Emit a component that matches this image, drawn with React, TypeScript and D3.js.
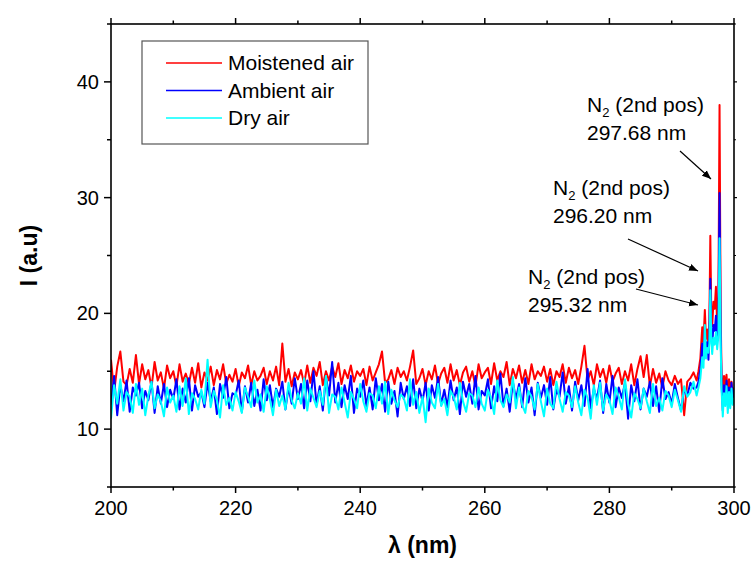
import React from "react";
import * as d3 from "d3";

// Baseline sampling grid: 200.0 .. 293.5 nm every 0.5 nm
const baseWavelengths: number[] = d3.range(200, 293.75, 0.5);

const redBase: number[] = [
  16.0,13.2,15.4,16.7,14.1,13.8,15.2,14.0,16.4,13.9,15.6,14.3,15.1,13.6,15.8,14.2,14.9,13.5,15.5,14.4,
  15.0,13.7,15.6,14.1,14.8,13.9,15.3,14.0,15.7,13.6,14.9,14.2,15.4,13.8,15.1,14.3,15.6,13.9,14.7,14.1,
  15.2,13.7,14.9,14.4,15.5,13.8,15.0,14.2,14.6,15.3,13.9,15.0,14.2,15.4,13.8,17.4,14.1,15.2,13.7,14.9,
  14.3,15.1,13.9,15.5,14.0,15.3,14.6,15.8,13.8,15.0,14.2,15.4,14.5,15.7,13.9,15.1,14.4,15.5,14.1,15.0,
  14.6,15.2,13.8,15.4,14.2,14.9,15.6,16.7,14.0,14.3,15.1,13.9,15.3,14.5,15.0,14.2,15.4,16.8,13.9,14.4,
  15.2,13.8,15.0,14.3,15.5,13.9,14.8,15.3,14.0,15.6,14.2,15.1,13.8,14.9,15.4,14.1,15.0,13.7,15.6,14.4,
  14.9,15.3,13.9,15.7,14.2,15.0,14.5,15.8,13.8,15.2,14.4,15.5,14.0,15.1,13.9,15.6,14.3,15.0,14.6,15.4,
  14.1,15.2,13.8,15.0,14.5,15.6,14.0,15.3,14.4,15.1,13.9,15.4,17.2,14.2,15.0,13.8,15.6,14.5,15.2,14.0,
  15.5,14.1,14.8,15.3,13.9,15.0,14.2,15.6,13.8,15.2,16.3,14.5,16.4,13.7,15.2,14.0,14.8,13.6,15.0,14.2,
  13.8,14.6,13.9,14.3,11.2,14.1,14.4,14.9,
];

const blueBase: number[] = [
  12.1,14.6,11.2,13.8,12.4,14.2,11.5,13.6,12.9,14.0,11.8,13.3,12.5,14.1,11.4,13.7,12.2,13.9,11.9,13.4,
  12.6,14.3,11.7,13.5,12.3,14.4,11.6,13.8,12.8,13.2,11.9,14.0,12.4,13.6,11.3,13.9,12.7,14.5,11.8,13.1,
  12.9,14.2,11.5,13.7,12.3,14.0,12.0,13.4,11.6,14.3,12.5,13.8,11.9,13.5,12.8,14.1,11.7,13.6,12.2,14.4,
  12.6,13.9,11.8,14.2,12.4,15.0,12.1,13.7,11.6,14.5,12.9,15.8,12.3,14.0,11.9,13.8,12.6,14.6,11.4,13.5,
  12.8,14.2,12.0,13.6,11.7,14.4,12.5,13.9,11.5,14.1,12.2,13.3,11.1,14.0,12.6,13.7,12.0,14.3,11.8,13.5,
  12.4,14.0,11.6,13.8,12.7,14.5,12.1,13.4,11.9,14.2,12.5,13.6,11.3,14.1,12.8,13.9,12.2,14.6,11.7,13.3,
  12.9,14.3,11.8,13.7,12.4,14.8,12.0,13.5,11.5,14.1,12.6,13.9,11.9,14.4,12.3,13.6,11.2,14.0,12.7,13.8,
  12.1,14.5,11.7,13.4,12.8,14.9,12.2,13.7,11.6,14.1,12.5,13.8,12.0,15.2,11.8,13.5,12.6,14.2,11.4,13.9,
  12.3,14.6,11.9,13.6,12.7,14.0,10.9,13.8,12.4,14.3,11.7,13.5,12.8,14.1,12.0,13.7,11.5,14.4,12.6,13.2,
  12.2,13.9,12.7,11.6,13.4,12.9,14.0,13.5,
];

const cyanBase: number[] = [
  10.9,13.8,12.2,14.3,11.6,13.2,12.8,11.4,13.9,12.1,13.5,11.2,12.9,14.1,11.8,13.0,12.4,11.1,13.6,12.3,
  12.9,11.5,13.7,12.0,14.4,11.3,13.1,12.6,11.7,13.4,12.2,16.0,11.9,13.3,12.5,11.0,13.8,12.1,12.7,11.6,
  13.2,12.4,11.4,13.6,12.8,11.9,14.2,12.3,13.0,11.5,13.7,12.6,11.2,13.4,12.0,12.9,11.7,14.0,12.5,11.8,
  13.1,12.2,14.4,11.6,13.5,12.7,11.9,13.3,12.1,14.6,11.4,13.0,12.8,11.7,13.6,12.3,11.0,13.2,12.6,11.8,
  13.9,12.4,11.5,13.1,12.9,11.8,13.7,12.2,14.1,11.3,13.4,12.5,11.9,13.0,12.7,11.6,14.3,12.1,13.2,11.4,
  12.8,10.6,13.5,12.3,11.8,13.9,12.0,12.6,11.2,13.3,12.8,11.7,14.0,12.4,11.5,13.1,12.9,11.9,13.6,12.2,
  11.6,13.4,12.7,11.3,14.2,12.5,11.9,13.0,12.3,14.5,11.8,13.6,12.1,11.4,13.3,12.8,11.7,13.9,12.4,11.1,
  13.5,12.2,11.8,14.1,12.6,11.5,13.2,12.9,11.9,13.7,12.3,11.2,13.4,12.7,10.9,13.8,12.1,14.0,11.6,13.0,
  12.5,11.3,13.6,12.8,11.7,14.3,12.2,11.0,13.1,12.6,11.8,13.5,12.4,11.4,13.9,12.0,12.7,11.6,13.3,12.9,
  11.9,13.4,12.5,11.5,13.7,12.8,13.2,14.1,
];

// N2 second positive band region
const peakWavelengths: number[] = [
  294.0,294.3,294.6,294.9,295.1,295.32,295.5,295.7,295.9,296.05,296.2,296.35,296.5,296.7,296.9,297.1,
  297.3,297.5,297.68,297.85,298.0,298.2,298.4,298.6,298.8,299.0,299.2,299.4,299.6,299.8,300.0,
];
const redPeak: number[] = [
  14.2,15.0,16.1,18.8,17.5,20.3,17.8,18.6,17.2,19.5,26.7,20.1,18.9,21.0,20.4,22.3,
  19.0,21.5,38.0,20.5,14.8,13.1,14.6,13.9,14.7,12.8,14.3,13.5,14.1,12.9,13.6,
];
const bluePeak: number[] = [
  13.6,14.1,15.2,17.4,16.0,18.7,16.3,17.5,16.0,18.2,23.0,18.4,17.2,19.0,18.5,19.8,
  17.6,19.5,30.4,18.6,13.9,11.6,13.8,12.4,14.2,12.7,13.6,12.2,14.0,12.5,13.4,
];
const cyanPeak: number[] = [
  12.9,13.6,14.4,16.2,15.3,19.0,16.1,17.0,16.6,17.4,22.0,17.8,16.5,17.9,17.3,18.4,
  16.9,18.1,26.5,17.6,13.4,11.1,13.1,12.0,13.7,11.4,13.2,11.8,13.5,12.1,12.7,
];

const seriesNames: string[] = ["Moistened air", "Ambient air", "Dry air"];
const seriesColors: string[] = ["#ff0000", "#0000ff", "#00ffff"];

const xTicks: number[] = [200, 220, 240, 260, 280, 300];
const yTicks: number[] = [10, 20, 30, 40];

const annotations = [
  { label: "297.68 nm", wl: 297.68 },
  { label: "296.20 nm", wl: 296.2 },
  { label: "295.32 nm", wl: 295.32 },
];

const W = 753;
const H = 567;
const L = 111, R = 734, T = 24, B = 487;

export default function App() {
  const x = d3.scaleLinear().domain([200, 300]).range([L, R]);
  const y = d3.scaleLinear().domain([5, 45]).range([B, T]);

  const build = (base: number[], peak: number[]) => {
    const pts: [number, number][] = baseWavelengths.map((w, i) => [w, base[i]]);
    peakWavelengths.forEach((w, i) => pts.push([w, peak[i]]));
    return pts;
  };
  const data = [build(redBase, redPeak), build(blueBase, bluePeak), build(cyanBase, cyanPeak)];
  const line = d3.line<[number, number]>().x((d) => x(d[0])).y((d) => y(d[1]));

  const xMinor = d3.range(210, 300, 20);
  const yMinor = d3.range(5, 46, 10);
  const font = "Liberation Sans, Arial, sans-serif";

  const annPos = [
    { tx: 587, ty1: 112, ty2: 140, ax1: 680, ay1: 151, ax2: 711, ay2: 179 },
    { tx: 553, ty1: 195, ty2: 223, ax1: 628, ay1: 239, ax2: 698, ay2: 271 },
    { tx: 528, ty1: 284, ty2: 312, ax1: 636, ay1: 289, ax2: 698, ay2: 305 },
  ];

  return (
    <svg width={W} height={H} style={{ position: "absolute", left: 0, top: 0 }} fontFamily={font}>
      <defs>
        <marker id="arr" viewBox="0 0 10 10" refX="10" refY="5" markerWidth="9" markerHeight="9" markerUnits="userSpaceOnUse" orient="auto">
          <path d="M0,1 L10,5 L0,9 Z" fill="#000" />
        </marker>
        <clipPath id="clip">
          <rect x={L} y={T} width={R - L} height={B - T} />
        </clipPath>
      </defs>
      <rect width={W} height={H} fill="#fff" />

      <g clipPath="url(#clip)">
        {data.map((d, i) => (
          <path key={i} d={line(d) || ""} fill="none" stroke={seriesColors[i]} strokeWidth={2} strokeLinejoin="round" />
        ))}
      </g>

      <rect x={L} y={T} width={R - L} height={B - T} fill="none" stroke="#000" strokeWidth={1.6} />

      {xTicks.map((t) => (
        <g key={"xt" + t}>
          <line x1={x(t)} x2={x(t)} y1={B} y2={B + 6} stroke="#000" strokeWidth={1.5} />
          <line x1={x(t)} x2={x(t)} y1={T} y2={T - 6} stroke="#000" strokeWidth={1.5} />
          <text x={x(t)} y={B + 28} textAnchor="middle" fontSize={20}>{t}</text>
        </g>
      ))}
      {xMinor.map((t) => (
        <g key={"xm" + t}>
          <line x1={x(t)} x2={x(t)} y1={B} y2={B + 3.5} stroke="#000" strokeWidth={1.5} />
          <line x1={x(t)} x2={x(t)} y1={T} y2={T - 3.5} stroke="#000" strokeWidth={1.5} />
        </g>
      ))}

      {yTicks.map((t) => (
        <g key={"yt" + t}>
          <line x1={L} x2={L - 7} y1={y(t)} y2={y(t)} stroke="#000" strokeWidth={1.5} />
          <line x1={R} x2={R + 3} y1={y(t)} y2={y(t)} stroke="#000" strokeWidth={1.2} />
          <text x={L - 12} y={y(t) + 7} textAnchor="end" fontSize={20}>{t}</text>
        </g>
      ))}
      {yMinor.map((t) => (
        <g key={"ym" + t}>
          <line x1={L} x2={L - 4} y1={y(t)} y2={y(t)} stroke="#000" strokeWidth={1.5} />
          <line x1={R} x2={R + 2} y1={y(t)} y2={y(t)} stroke="#000" strokeWidth={1.2} />
        </g>
      ))}

      <text x={(L + R) / 2} y={553} textAnchor="middle" fontSize={23} fontWeight="bold">λ (nm)</text>
      <text transform={`translate(37,${(T + B) / 2}) rotate(-90)`} textAnchor="middle" fontSize={23} fontWeight="bold">I (a.u)</text>

      <rect x={142} y={41} width={226} height={103} fill="#fff" stroke="#555" strokeWidth={1.2} />
      {seriesNames.map((n, i) => (
        <g key={n}>
          <line x1={166} x2={222} y1={63 + i * 27.5} y2={63 + i * 27.5} stroke={seriesColors[i]} strokeWidth={1.5} />
          <text x={228} y={63 + i * 27.5 + 7} fontSize={21}>{n}</text>
        </g>
      ))}

      {annotations.map((a, i) => {
        const p = annPos[i];
        return (
          <g key={a.label}>
            <text x={p.tx} y={p.ty1} fontSize={21}>
              N<tspan fontSize={13} dy={5}>2</tspan>
              <tspan dy={-5}> (2nd pos)</tspan>
            </text>
            <text x={p.tx} y={p.ty2} fontSize={21}>{a.label}</text>
            <line x1={p.ax1} y1={p.ay1} x2={p.ax2} y2={p.ay2} stroke="#000" strokeWidth={1.2} markerEnd="url(#arr)" />
          </g>
        );
      })}
    </svg>
  );
}
